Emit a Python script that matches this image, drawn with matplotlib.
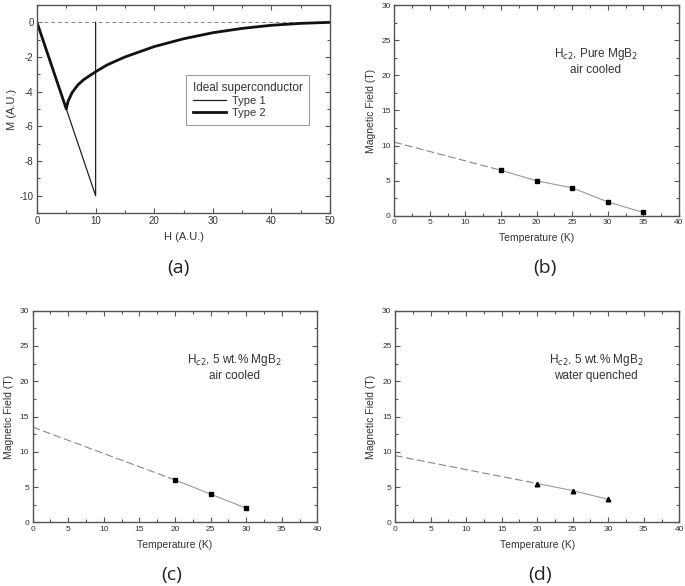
import matplotlib
matplotlib.use("Agg")
import matplotlib.pyplot as plt
from matplotlib.ticker import MultipleLocator

plt.rcParams['font.family'] = ['Liberation Sans', 'DejaVu Sans']
plt.rcParams['axes.unicode_minus'] = False

# ---- Panel (a) data ----
type1_H = [0, 10, 10]
type1_M = [0, -10, 0]
type2_H = [0, 5, 5.3, 6, 7, 8, 10, 12, 15, 20, 25, 30, 35, 40, 45, 50]
type2_M = [0, -5, -4.55, -4.05, -3.6, -3.3, -2.85, -2.45, -2.0, -1.4, -0.95, -0.6, -0.35, -0.17, -0.06, 0]

# ---- Panel (b) data ----
b_T = [15, 20, 25, 30, 35]
b_H = [6.5, 5.0, 4.0, 2.0, 0.5]
b_ext_T = [0, 15]
b_ext_H = [10.5, 6.5]

# ---- Panel (c) data ----
c_T = [20, 25, 30]
c_H = [6.0, 4.0, 2.0]
c_ext_T = [0, 20]
c_ext_H = [13.5, 6.0]

# ---- Panel (d) data ----
d_T = [20, 25, 30]
d_H = [5.5, 4.5, 3.25]
d_ext_T = [0, 20]
d_ext_H = [9.45, 5.5]

panel_labels = ['(a)', '(b)', '(c)', '(d)']
notes = ['H$_{c2}$, Pure MgB$_2$\nair cooled',
         'H$_{c2}$, 5 wt.% MgB$_2$\nair cooled',
         'H$_{c2}$, 5 wt.% MgB$_2$\nwater quenched']

W, H = 685, 586
fig = plt.figure(figsize=(W / 100, H / 100), dpi=100)

def ax_px(l, t, r, b):
    return fig.add_axes([l / W, 1 - b / H, (r - l) / W, (b - t) / H])

spine_c = '#555555'
text_c = '#333333'

def style(ax, xmaj, xmin, ymaj, ymin, lsize):
    for s in ax.spines.values():
        s.set_color(spine_c)
        s.set_linewidth(1.0)
    ax.xaxis.set_major_locator(MultipleLocator(xmaj))
    ax.xaxis.set_minor_locator(MultipleLocator(xmin))
    ax.yaxis.set_major_locator(MultipleLocator(ymaj))
    ax.yaxis.set_minor_locator(MultipleLocator(ymin))
    ax.tick_params(which='both', direction='in', top=True, right=True,
                   colors=spine_c, labelcolor=text_c, labelsize=lsize, pad=2.5)
    ax.tick_params(which='major', length=3.5, width=0.8)
    ax.tick_params(which='minor', length=2, width=0.8)

# Panel (a)
axa = ax_px(37, 5, 330, 213)
axa.axhline(0, color='#888888', lw=0.7, ls=(0, (4, 3)))
axa.plot(type1_H, type1_M, color='#222222', lw=0.9, label='Type 1')
axa.plot(type2_H, type2_M, color='#111111', lw=2.0, label='Type 2')
axa.set_xlim(0, 50)
axa.set_ylim(-11, 1)
style(axa, 10, 5, 2, 1, 7)
axa.set_xlabel('H (A.U.)', fontsize=8, color=text_c, labelpad=4)
axa.set_ylabel('M (A.U.)', fontsize=8, color=text_c, labelpad=2)
leg = axa.legend(title='Ideal superconductor', loc='upper left',
                 bbox_to_anchor=(0.49, 0.69), fontsize=8, title_fontsize=8.5,
                 frameon=True, fancybox=False, edgecolor='#888888',
                 handlelength=3.0, handletextpad=0.5, borderpad=0.6,
                 labelspacing=0.2)
leg._legend_box.align = 'left'
leg.get_frame().set_linewidth(0.8)
for t in leg.get_texts():
    t.set_color(text_c)
leg.get_title().set_color(text_c)

# Panels (b), (c), (d)
def mf_panel(rect, T, Hv, eT, eH, marker, note):
    ax = ax_px(*rect)
    ax.plot(eT, eH, color='#888888', lw=0.8, ls=(0, (7, 3)))
    ax.plot(T, Hv, color='#999999', lw=0.8)
    ax.plot(T, Hv, ls='none', marker=marker, color='black', ms=3.3)
    ax.set_xlim(0, 40)
    ax.set_ylim(0, 30)
    style(ax, 5, 2.5, 5, 2.5, 6)
    ax.set_xlabel('Temperature (K)', fontsize=7.5, color=text_c, labelpad=5)
    ax.set_ylabel('Magnetic Field (T)', fontsize=7.5, color=text_c, labelpad=4)
    ax.text(28.3, 22.0, note, ha='center', va='center', fontsize=8.5,
            color=text_c, linespacing=1.2)
    return ax

mf_panel((394.3, 5, 679, 216), b_T, b_H, b_ext_T, b_ext_H, 's', notes[0])
mf_panel((32.7, 310.7, 317.3, 522.3), c_T, c_H, c_ext_T, c_ext_H, 's', notes[1])
mf_panel((395, 310.7, 679.3, 522.3), d_T, d_H, d_ext_T, d_ext_H, '^', notes[2])

# Panel labels
lab_pos = [(178, 268), (545, 268), (172, 575), (540, 575)]
for lab, (x, y) in zip(panel_labels, lab_pos):
    fig.text(x / W, 1 - y / H, lab, ha='center', va='center', fontsize=14,
             family=['Open Sans', 'DejaVu Sans'], color='#222222')

fig.savefig('out.png', dpi=100)
